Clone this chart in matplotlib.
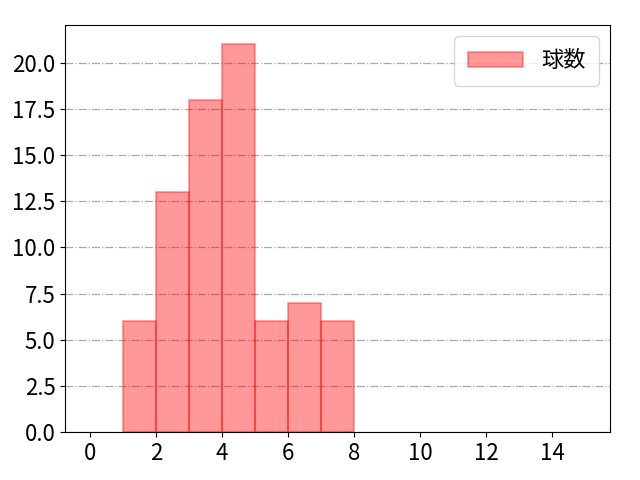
import numpy as np
import matplotlib
matplotlib.use("Agg")
import matplotlib.pyplot as plt

plt.rcParams["font.family"] = ["Noto Sans CJK JP", "DejaVu Sans"]

# pitch count per bin (bins of width 1 from 0 to 15)
bin_lefts = list(range(0, 15))
counts = [0, 6, 13, 18, 21, 6, 7, 6, 0, 0, 0, 0, 0, 0, 0]
label = "球数"

# only draw bins that hold pitches
lefts = [b for b, c in zip(bin_lefts, counts) if c > 0]
heights = [c for c in counts if c > 0]

fig, ax = plt.subplots(figsize=(6.4, 4.8), dpi=100)
fig.subplots_adjust(left=0.102, right=0.953, top=0.948, bottom=0.1)

ax.bar(lefts, heights, width=1, align="edge", color="red", alpha=0.4,
       edgecolor="red", linewidth=1.2, label=label, zorder=2)

ax.set_xlim(-0.75, 15.75)
ax.set_ylim(0, max(counts) * 1.05)
ax.grid(axis="y", linestyle="-.", color="#aaaaaa", linewidth=0.9, zorder=0)
ax.set_axisbelow(True)
ax.set_xticks(range(0, 16, 2))
ax.tick_params(labelsize=16)
ax.legend(fontsize=16, loc="upper right", borderpad=0.6, handlelength=2.5)

fig.savefig("out.png")
